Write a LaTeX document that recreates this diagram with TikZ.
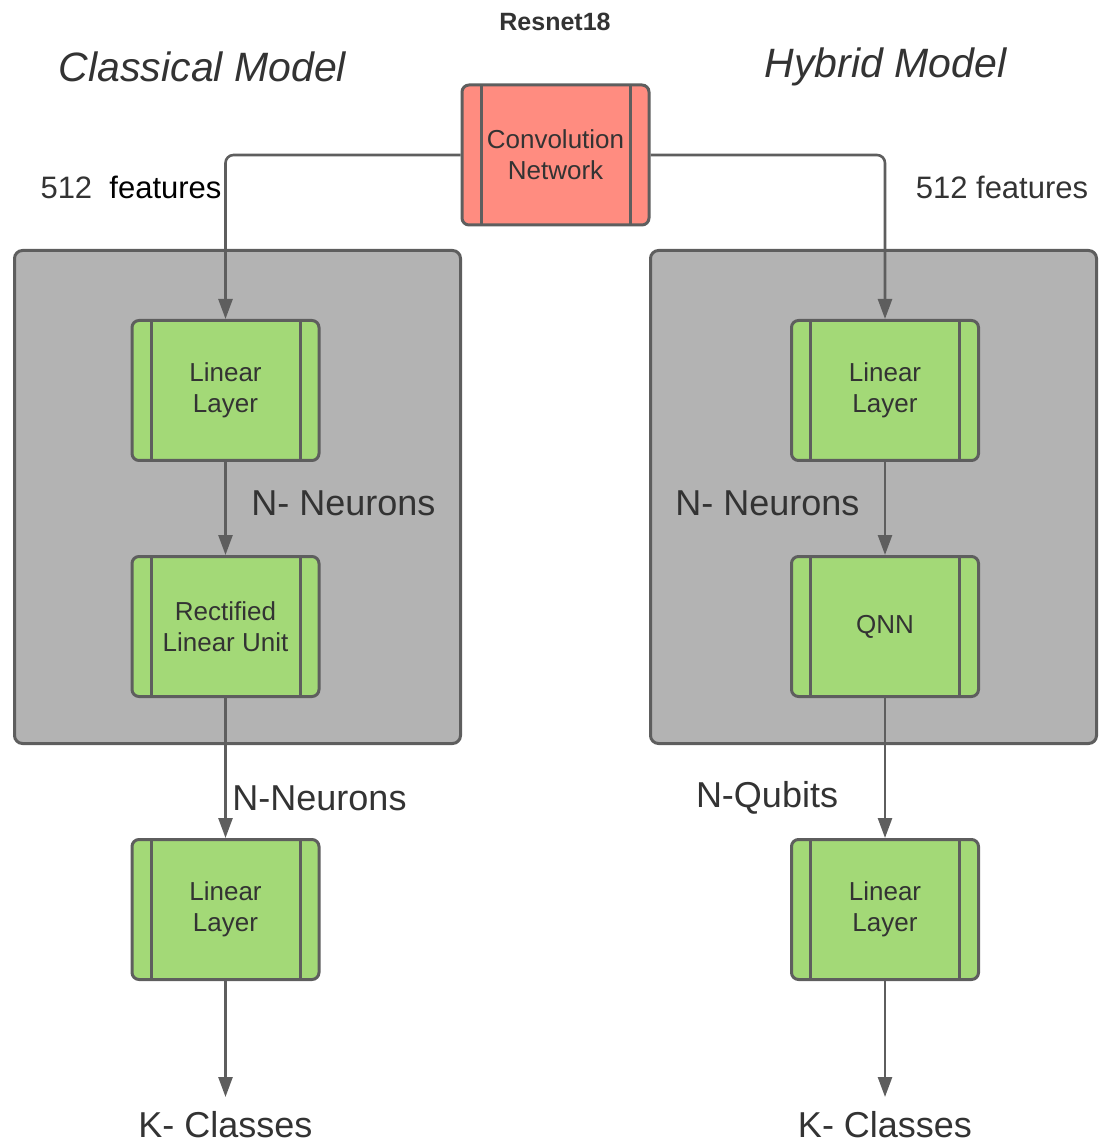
\documentclass[tikz,border=0pt]{standalone}
\usepackage{fontspec}
\setmainfont{Liberation Sans}
\usepackage{tikz}
\usetikzlibrary{arrows.meta}
\definecolor{boxline}{HTML}{5E5E5E}
\definecolor{layergreen}{HTML}{A3D977}
\definecolor{convred}{HTML}{FF8C80}
\definecolor{panelgray}{HTML}{B3B3B3}
\definecolor{textgray}{HTML}{333333}
\tikzset{
  layerbox/.style={draw=boxline, line width=1.5pt, rounded corners=3.5pt,
    minimum width=93.5pt, minimum height=70pt, inner sep=0pt, align=center,
    text=textgray, font=\fontsize{13}{15.5}\selectfont,
    path picture={
      \draw[boxline, line width=1.5pt]
        ([xshift=9.5pt]path picture bounding box.north west) -- ([xshift=9.5pt]path picture bounding box.south west)
        ([xshift=-9.5pt]path picture bounding box.north east) -- ([xshift=-9.5pt]path picture bounding box.south east);}},
  panel/.style={draw=boxline, line width=1.5pt, fill=panelgray, rounded corners=4pt,
    minimum width=223pt, minimum height=246.5pt, inner sep=0pt},
  flow/.style={draw=boxline, line width=1.3pt, rounded corners=4pt, -{Triangle[length=10pt,width=7pt]}},
  lbl/.style={text=textgray, inner sep=1pt, font=\fontsize{18}{21}\selectfont}
}

\begin{document}
\begin{tikzpicture}[x=0.5pt, y=-0.5pt]
        \useasboundingbox (0,0) rectangle (1101,1143);
        \node[panel] (clsPanel) at (237.5,497) {};
        \node[panel] (hybPanel) at (873.5,497) {};
        \node[layerbox, fill=convred] (conv) at (555.5,155) {Convolution\\Network};
        \node[layerbox, fill=layergreen] (clsLin1) at (225.5,390.5) {Linear\\Layer};
        \node[layerbox, fill=layergreen] (clsRelu) at (225.5,626.5) {Rectified\\Linear Unit};
        \node[layerbox, fill=layergreen] (clsLin2) at (225.5,909.5) {Linear\\Layer};
        \node[layerbox, fill=layergreen] (hybLin1) at (885,390.5) {Linear\\Layer};
        \node[layerbox, fill=layergreen] (hybQnn) at (885,626.5) {QNN};
        \node[layerbox, fill=layergreen] (hybLin2) at (885,909.5) {Linear\\Layer};
        \coordinate (clsOut) at (225.5,1097);
        \coordinate (hybOut) at (885,1097);
        \draw[flow] (conv.west) -| (clsLin1.north);
        \draw[flow] (conv.east) -| (hybLin1.north);
        \draw[flow] (clsLin1) -- (clsRelu);
        \draw[flow] (clsRelu) -- (clsLin2);
        \draw[flow] (clsLin2) -- (clsOut);
        \draw[flow] (hybLin1) -- (hybQnn);
        \draw[flow] (hybQnn) -- (hybLin2);
        \draw[flow] (hybLin2) -- (hybOut);
        \node[text=textgray, font=\fontsize{12.5}{15}\selectfont\bfseries] (resnet) at (555,22) {Resnet18};
        \node[text=textgray, font=\fontsize{20.5}{24}\selectfont\itshape] (clsTitle) at (202.5,67) {Classical Model};
        \node[text=textgray, font=\fontsize{20.5}{24}\selectfont\itshape] (hybTitle) at (885.5,67) {Hybrid Model};
        \node[text=textgray, font=\fontsize{15.5}{18}\selectfont] (clsFeat) at (131,187) {512\ \ \textcolor{black}{features}};
        \node[text=textgray, font=\fontsize{15.5}{18}\selectfont] (hybFeat) at (1002,187) {512 features};
        \node[lbl] (clsN1) at (343.5,503) {N- Neurons};
        \node[lbl] (hybN1) at (767.5,503) {N- Neurons};
        \node[lbl] (clsN2) at (319.5,798) {N-Neurons};
        \node[lbl] (hybN2) at (767,798) {N-Qubits};
        \node[lbl] (clsK) at (225.5,1125) {K- Classes};
        \node[lbl] (hybK) at (885,1125) {K- Classes};
    \end{tikzpicture}
\end{document}
